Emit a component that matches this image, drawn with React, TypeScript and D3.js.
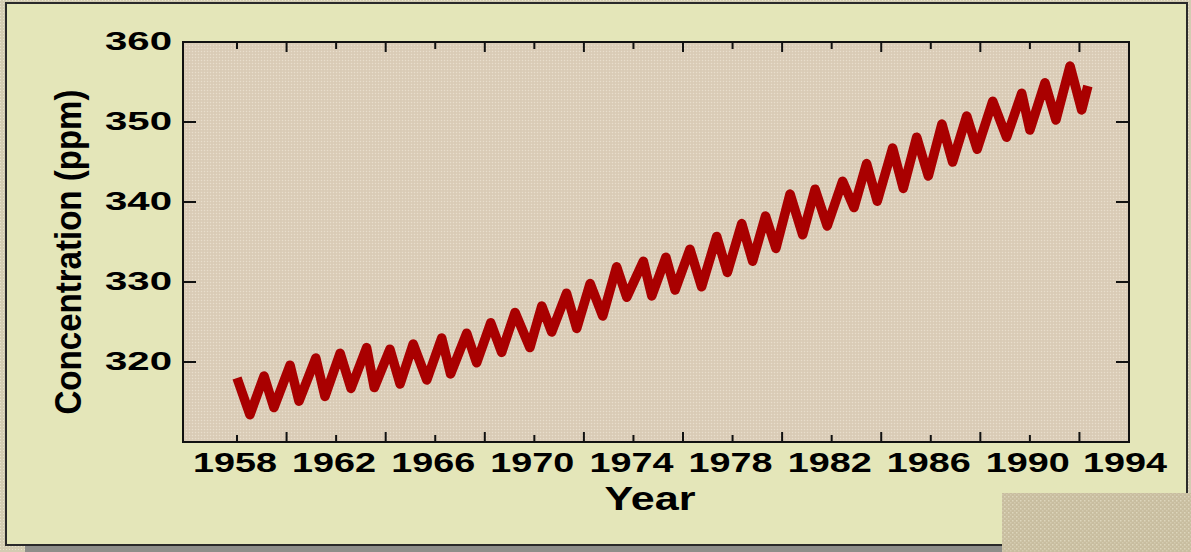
import React from "react";
import * as d3 from "d3";

// Data (decimal year, CO2 ppm): alternating seasonal troughs and peaks
const years = [
  1958.0, 1958.52, 1959.09, 1959.49, 1960.14, 1960.5, 1961.18, 1961.55, 1962.16, 1962.6,
  1963.23, 1963.54, 1964.17, 1964.58, 1965.11, 1965.66, 1966.26, 1966.62, 1967.27, 1967.67,
  1968.24, 1968.68, 1969.22, 1969.82, 1970.3, 1970.7, 1971.3, 1971.71, 1972.25, 1972.76,
  1973.32, 1973.73, 1974.4, 1974.74, 1975.31, 1975.68, 1976.28, 1976.75, 1977.36, 1977.79,
  1978.37, 1978.81, 1979.33, 1979.75, 1980.32, 1980.83, 1981.33, 1981.82, 1982.44, 1982.9,
  1983.41, 1983.84, 1984.46, 1984.89, 1985.43, 1985.9, 1986.45, 1986.88, 1987.45, 1987.87,
  1988.5, 1989.06, 1989.67, 1990.0, 1990.61, 1991.05, 1991.62, 1992.09, 1992.34,
];
const concentration = [
  318.0, 313.4, 318.25, 314.3, 319.6, 315.1, 320.5, 315.7, 321.1, 316.7,
  321.8, 316.8, 321.6, 317.25, 322.25, 317.75, 323.0, 318.5, 323.6, 319.9,
  324.9, 321.2, 326.2, 321.8, 327.0, 323.75, 328.6, 324.2, 329.8, 325.75,
  331.9, 328.1, 332.6, 328.25, 333.1, 329.0, 334.1, 329.4, 335.7, 331.2,
  337.3, 332.6, 338.25, 334.2, 341.0, 335.9, 341.6, 337.0, 342.6, 339.3,
  344.8, 340.1, 346.75, 341.7, 348.1, 343.25, 349.75, 345.0, 350.75, 346.6,
  352.6, 348.1, 353.6, 349.0, 354.9, 350.25, 357.0, 351.5, 354.5,
];
const xTickYears = [1958, 1960, 1962, 1964, 1966, 1968, 1970, 1972, 1974, 1976, 1978, 1980, 1982, 1984, 1986, 1988, 1990, 1992];
const xLabelYears = [1958, 1962, 1966, 1970, 1974, 1978, 1982, 1986, 1990, 1994];
const yTickValues = [320, 330, 340, 350];
const yLabelValues = [320, 330, 340, 350, 360];

const W = 1191;
const H = 552;
const plot = { left: 183, top: 42, right: 1129, bottom: 442 };

export default function App() {
  const x = d3.scaleLinear().domain([1955.82, 1994]).range([plot.left, plot.right]);
  const y = d3.scaleLinear().domain([310, 360]).range([plot.bottom, plot.top]);
  const pts = years.map((t, i) => [t, concentration[i]] as [number, number]);
  const line = d3
    .line<[number, number]>()
    .x((d) => x(d[0]))
    .y((d) => y(d[1]));

  return (
    <svg
      width={W}
      height={H}
      style={{ position: "absolute", left: 0, top: 0, display: "block" }}
      fontFamily="'Liberation Sans', Arial, sans-serif"
    >
      <defs>
        <pattern id="plotTex" width="3" height="3" patternUnits="userSpaceOnUse">
          <rect width="3" height="3" fill="#DCCEB9" />
          <rect x="0" y="0" width="1" height="1" fill="#E8DECD" />
          <rect x="1.5" y="1.5" width="1" height="1" fill="#D2C3AD" />
        </pattern>
        <pattern id="boxTex" width="4" height="4" patternUnits="userSpaceOnUse">
          <rect width="4" height="4" fill="#C8BD9F" />
          <rect x="0" y="0" width="1.5" height="1.5" fill="#DDD6BC" />
          <rect x="2" y="2" width="1.5" height="1.5" fill="#D4CBB0" />
        </pattern>
        <pattern id="frameTex" width="3" height="3" patternUnits="userSpaceOnUse">
          <rect width="3" height="3" fill="#D3CCB2" />
          <rect x="0" y="0" width="1" height="1" fill="#E6E2CC" />
        </pattern>
      </defs>

      {/* outer textured frame */}
      <rect x={0} y={0} width={W} height={H} fill="url(#frameTex)" />
      {/* bottom grey strip */}
      <rect x={25} y={545} width={W - 25} height={H - 545} fill="#8E8E8A" />
      {/* yellow panel */}
      <rect x={6} y={3} width={1181} height={542} fill="#E4E6B9" stroke="#2A2A2A" strokeWidth={2} />
      {/* bottom-right textured box */}
      <rect x={1002} y={493} width={W - 1002} height={H - 493} fill="url(#boxTex)" />

      {/* plot area */}
      <rect
        x={plot.left}
        y={plot.top}
        width={plot.right - plot.left}
        height={plot.bottom - plot.top}
        fill="url(#plotTex)"
      />

      {/* data line */}
      <path
        d={line(pts) || ""}
        fill="none"
        stroke="#A90000"
        strokeWidth={9.5}
        strokeLinejoin="round"
        strokeLinecap="butt"
      />

      {/* x ticks (bottom and top, inward) */}
      {xTickYears.map((t) => {
        const len = (t - 1958) % 4 === 0 ? 7 : 10;
        return (
          <g key={"xt" + t} stroke="#111" strokeWidth={2}>
            <line x1={x(t)} x2={x(t)} y1={plot.bottom} y2={plot.bottom - len} />
            <line x1={x(t)} x2={x(t)} y1={plot.top} y2={plot.top + len} />
          </g>
        );
      })}
      {/* y ticks (left and right, inward) */}
      {yTickValues.map((v) => (
        <g key={"yt" + v} stroke="#111" strokeWidth={2}>
          <line x1={plot.left} x2={plot.left + 13} y1={y(v)} y2={y(v)} />
          <line x1={plot.right} x2={plot.right - 13} y1={y(v)} y2={y(v)} />
        </g>
      ))}

      {/* frame */}
      <rect
        x={plot.left}
        y={plot.top}
        width={plot.right - plot.left}
        height={plot.bottom - plot.top}
        fill="none"
        stroke="#111"
        strokeWidth={2}
      />

      {/* x labels */}
      {xLabelYears.map((t) => (
        <text
          key={"xl" + t}
          x={Math.min(x(t), 1127) - 2}
          y={472}
          textAnchor="middle"
          fontSize={28}
          fontWeight="bold"
          fill="#000"
          textLength={84}
          lengthAdjust="spacingAndGlyphs"
        >
          {t}
        </text>
      ))}
      {/* y labels */}
      {yLabelValues.map((v) => (
        <text
          key={"yl" + v}
          x={172}
          y={y(v) + 8}
          textAnchor="end"
          fontSize={26}
          fontWeight="bold"
          fill="#000"
          textLength={67}
          lengthAdjust="spacingAndGlyphs"
        >
          {v}
        </text>
      ))}

      {/* axis titles */}
      <text
        x={650}
        y={510}
        textAnchor="middle"
        fontSize={34}
        fontWeight="bold"
        fill="#000"
        textLength={91}
        lengthAdjust="spacingAndGlyphs"
      >
        Year
      </text>
      <text
        transform="translate(81,252) rotate(-90)"
        textAnchor="middle"
        fontSize={36}
        fontWeight="bold"
        fill="#000"
        textLength={325}
        lengthAdjust="spacingAndGlyphs"
      >
        Concentration (ppm)
      </text>
    </svg>
  );
}
